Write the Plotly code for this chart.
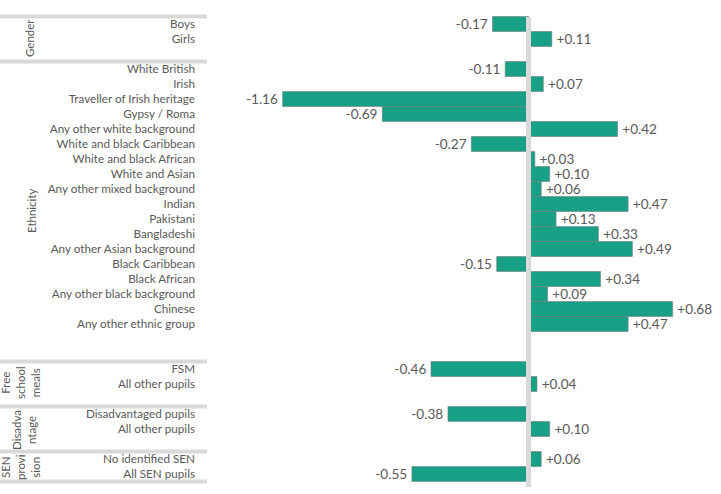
import plotly.graph_objects as go

# ---------------- data ----------------
gender_labels = ["Boys", "Girls"]
gender_values = [-0.17, 0.11]

ethnicity_labels = [
    "White British", "Irish", "Traveller of Irish heritage", "Gypsy / Roma",
    "Any other white background", "White and black Caribbean",
    "White and black African", "White and Asian", "Any other mixed background",
    "Indian", "Pakistani", "Bangladeshi", "Any other Asian background",
    "Black Caribbean", "Black African", "Any other black background",
    "Chinese", "Any other ethnic group",
]
ethnicity_values = [-0.11, 0.07, -1.16, -0.69, 0.42, -0.27, 0.03, 0.10, 0.06,
                    0.47, 0.13, 0.33, 0.49, -0.15, 0.34, 0.09, 0.68, 0.47]

fsm_labels = ["FSM", "All other pupils"]
fsm_values = [-0.46, 0.04]

disadv_labels = ["Disadvantaged pupils", "All other pupils"]
disadv_values = [-0.38, 0.10]

sen_labels = ["No identified SEN", "All SEN pupils"]
sen_values = [0.06, -0.55]

group_titles = ["Gender", "Ethnicity", "Free<br>school<br>meals",
                "Disadva<br>ntage", "SEN<br>provi<br>sion"]

groups = [
    (gender_labels, gender_values),
    (ethnicity_labels, ethnicity_values),
    (fsm_labels, fsm_values),
    (disadv_labels, disadv_values),
    (sen_labels, sen_values),
]
gaps_after = [1, 2, 1, 1, 0]

# ---------------- layout helpers ----------------
W, H = 721, 494
ML = 198
PW = W - ML
ZERO_PX = 528.5
PX_PER_UNIT = 212.0
ROW0_PX = 24.0
ROW_PX = 15.0

xr = [-(ZERO_PX - ML) / PX_PER_UNIT, (W - ZERO_PX) / PX_PER_UNIT]
yr = [(H - ROW0_PX) / ROW_PX, -ROW0_PX / ROW_PX]

def px_x(px):
    return (px - ML) / PW

def px_y(py):
    return 1 - py / H

labels, values, pos, group_tops = [], [], [], []
r = 0
for (lab, val), gap in zip(groups, gaps_after):
    group_tops.append(r)
    for l, v in zip(lab, val):
        labels.append(l)
        values.append(v)
        pos.append(r)
        r += 1
    r += gap
last_row = pos[-1]

SP = "\u2009"
texts = [(SP + f"{v:+.2f}") if v >= 0 else (f"{v:+.2f}" + SP) for v in values]

GREY_TXT = "#595959"
FONT = "Lato"

fig = go.Figure(go.Bar(
    x=values, y=pos, orientation="h", width=1.0,
    marker=dict(color="#17a086", line=dict(color="rgba(120,120,120,0.7)", width=0.8)),
    text=texts, textposition="outside", constraintext="none", cliponaxis=False,
    textfont=dict(family=FONT, size=13.6, color=GREY_TXT),
    hoverinfo="skip",
))

shapes = []
for gt in group_tops:
    ypx = ROW0_PX + ROW_PX * (gt - 0.5)
    shapes.append(dict(type="line", xref="paper", yref="paper",
                       x0=px_x(0), x1=px_x(207), y0=px_y(ypx), y1=px_y(ypx),
                       line=dict(color="#d9d9d9", width=4)))
ypx = ROW0_PX + ROW_PX * (last_row + 0.5)
shapes.append(dict(type="line", xref="paper", yref="paper",
                   x0=px_x(0), x1=px_x(207), y0=px_y(ypx), y1=px_y(ypx),
                   line=dict(color="#d9d9d9", width=4)))
shapes.append(dict(type="line", xref="x", yref="y", x0=0, x1=0,
                   y0=(17 - ROW0_PX) / ROW_PX, y1=(487 - ROW0_PX) / ROW_PX,
                   line=dict(color="#d9d9d9", width=5), layer="above"))

title_pos = [(30, 38), (31, 211), (20, 383), (24, 430), (20, 467)]
annotations = []
for t, (tx, ty) in zip(group_titles, title_pos):
    annotations.append(dict(text=t, xref="paper", yref="paper",
                            x=px_x(tx), y=px_y(ty), xanchor="center", yanchor="middle",
                            textangle=-90, showarrow=False,
                            font=dict(family=FONT, size=11.5, color=GREY_TXT)))

fig.update_layout(
    width=W, height=H,
    margin=dict(l=ML, r=0, t=0, b=0),
    paper_bgcolor="white", plot_bgcolor="white",
    showlegend=False,
    xaxis=dict(range=xr, visible=False, showgrid=False, zeroline=False, fixedrange=True),
    yaxis=dict(range=yr, tickmode="array", tickvals=pos, ticktext=labels,
               showgrid=False, zeroline=False, showline=False, ticks="",
               ticklabelstandoff=2,
               tickfont=dict(family=FONT, size=11.7, color=GREY_TXT), fixedrange=True),
    shapes=shapes,
    annotations=annotations,
)

fig.write_html("out.html")
